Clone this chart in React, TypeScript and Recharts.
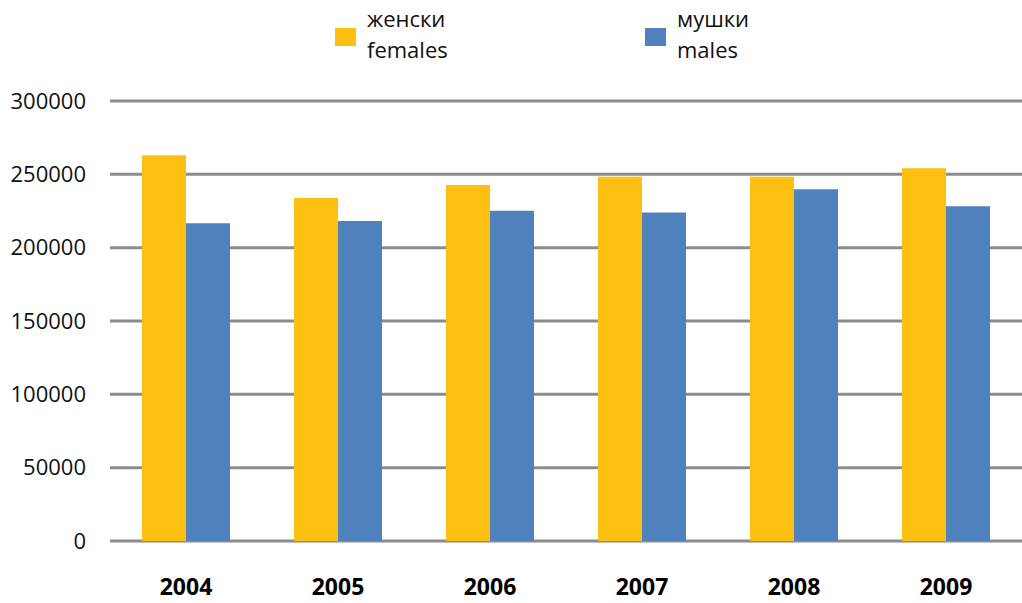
import { BarChart, Bar, XAxis, YAxis, CartesianGrid } from "recharts";

const YEARS = ["2004", "2005", "2006", "2007", "2008", "2009"];
const FEMALES = [263000, 233900, 242700, 248400, 248400, 254100];
const MALES = [216600, 218200, 225200, 223900, 239800, 228200];
const Y_TICKS = [0, 50000, 100000, 150000, 200000, 250000, 300000];

const FONT = "'Open Sans', 'Liberation Sans', sans-serif";
const YELLOW = "#FDBF12";
const BLUE = "#4F81BD";

const data = YEARS.map((year, i) => ({
    year,
    females: FEMALES[i],
    males: MALES[i],
}));

const LEGEND_ITEMS = [
    { color: YELLOW, top: "женски", bottom: "females", left: 335 },
    { color: BLUE, top: "мушки", bottom: "males", left: 645 },
];

// legend sits above the plot, two lines per entry
function TwoLineLegend() {
    return (
        <div style={{ position: "absolute", left: 0, top: 0, width: 1022, height: 70, fontFamily: FONT, fontSize: 22, color: "#111" }}>
            {LEGEND_ITEMS.map((item) => (
                <div key={item.bottom} style={{ position: "absolute", left: item.left, top: 0 }}>
                    <div
                        style={{
                            position: "absolute",
                            left: 0,
                            top: 28,
                            width: 21,
                            height: 18,
                            background: item.color,
                        }}
                    />
                    <div style={{ position: "absolute", left: 32, top: 3, lineHeight: "31px", whiteSpace: "nowrap" }}>
                        <div>{item.top}</div>
                        <div>{item.bottom}</div>
                    </div>
                </div>
            ))}
        </div>
    );
}

export default function App() {
    return (
        <div style={{ position: "absolute", left: 0, top: 0, width: 1022, height: 603, background: "#fff" }}>
            <BarChart
                width={1022}
                height={603}
                data={data}
                margin={{ top: 101, right: 0, left: 0, bottom: 0 }}
                barCategoryGap={32}
                barGap={0}
            >
                <CartesianGrid vertical={false} stroke="#8C8C8C" strokeWidth={3} />
                <XAxis
                    dataKey="year"
                    height={62}
                    axisLine={false}
                    tickLine={false}
                    tickSize={0}
                    tickMargin={38}
                    tick={{ fill: "#000", fontSize: 23, fontWeight: 700, fontFamily: FONT }}
                />
                <YAxis
                    width={110}
                    domain={[0, 300000]}
                    ticks={Y_TICKS}
                    axisLine={false}
                    tickLine={false}
                    tickSize={0}
                    tickMargin={24}
                    tick={{ fill: "#111", fontSize: 22, fontFamily: FONT }}
                />
                <Bar dataKey="females" fill={YELLOW} isAnimationActive={false} />
                <Bar dataKey="males" fill={BLUE} isAnimationActive={false} />
            </BarChart>
            <TwoLineLegend />
        </div>
    );
}
